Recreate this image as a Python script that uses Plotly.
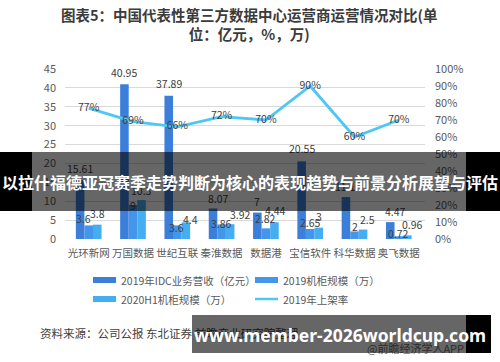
import plotly.graph_objects as go

# ---------------- data ----------------
categories = ["光环新网", "万国数据", "世纪互联", "秦淮数据", "数据港", "宝信软件", "科华数据", "奥飞数据"]
revenue_2019 = [15.61, 40.95, 37.89, 8.07, 7, 20.55, 11.1, 4.47]
cabinets_2019 = [3.6, 9, 3.6, 3.86, 2.82, 2.65, 2, 0.72]
cabinets_2020h1 = [3.8, 10.3, 4.4, 3.92, 4.44, 3, 2.5, 0.96]
rack_rate_2019 = [77, 69, 66, 72, 70, 90, 60, 70]
series_names = ["2019年IDC业务营收（亿元）", "2019机柜规模（万）", "2020H1机柜规模（万）", "2019年上架率"]
left_ticks = [0, 5, 10, 15, 20, 25, 30, 35, 40, 45]
right_ticks = [0, 10, 20, 30, 40, 50, 60, 70, 80, 90, 100]

title_text = "图表5：中国代表性第三方数据中心运营商运营情况对比(单<br>位：亿元，%，万)"
source_text = "资料来源：公司公报 东北证券 前瞻产业研究院整理"
credit_text = "@前瞻经济学人APP"
banner1_text = "以拉什福德亚冠赛季走势判断为核心的表现趋势与前景分析展望与评估"
banner2_text = "www.member-2026worldcup.com"

# ---------------- styling / layout helpers ----------------
W, H = 500, 362
L, R, T, B = 65, 75, 69, 123
PW, PH = W - L - R, H - T - B


def px(x):
    return (x - L) / PW


def py(y):
    return (H - B - y) / PH


FONT = "Noto Sans CJK SC, Noto Sans, sans-serif"
bar_colors = ["#3C7FDB", "#4496EA", "#45ADF2"]
line_color = "#4DC8F6"
label_color = "#404040"
tick_color = "#595959"

BAR_GAP = 0.42
bar_w_px = (1 - BAR_GAP) * (PW / len(categories)) / 3
bar_offsets_px = [-bar_w_px, 0, bar_w_px]
# label nudges (pixels): horizontal shift and height of label centre above bar top
label_dx = [
    [0, 0, 0, 6, 0, 0, 0, 5],
    [-5, 0, -1, 0, 0, 0, 0, 0],
    [0, 0, 4, 10, 1, 0, 4, 5],
]
label_dy = [
    [12, 12, 12, 10, 11, 13, 11, 11],
    [7, 0, -2, 1, 10, 6, 5, 3],
    [11, 10, 3, 10, 12, 11, 10, 11],
]

fig = go.Figure()

for name, vals, col in zip(series_names[:3], [revenue_2019, cabinets_2019, cabinets_2020h1], bar_colors):
    fig.add_trace(go.Bar(
        x=categories, y=vals, name=name,
        marker=dict(color=col, line=dict(width=0)),
        yaxis="y",
    ))

fig.add_trace(go.Scatter(
    x=categories, y=rack_rate_2019, name=series_names[3], yaxis="y2",
    mode="lines+text", line=dict(color=line_color, width=2.8),
    text=[f"{v}%" for v in rack_rate_2019], textposition="middle center",
    textfont=dict(size=10.5, color=label_color, family=FONT), cliponaxis=False,
))

shapes = []
annotations = []

# bar value labels (drawn before the overlay banners so the banners cover them)
for s, vals in enumerate([revenue_2019, cabinets_2019, cabinets_2020h1]):
    for i, (cat, v) in enumerate(zip(categories, vals)):
        annotations.append(dict(
            text=f"{v:g}", x=cat, y=v, xref="x", yref="y",
            xanchor="center", yanchor="middle", showarrow=False,
            xshift=bar_offsets_px[s] + label_dx[s][i], yshift=label_dy[s][i],
            font=dict(size=10.5, color=label_color, family=FONT),
        ))

# title
annotations.append(dict(
    text="<b>" + title_text + "</b>", x=px(250), y=py(24), xref="paper", yref="paper",
    xanchor="center", yanchor="middle", showarrow=False, align="center",
    font=dict(size=14.5, color="#3B3B3B", family=FONT),
))

# custom legend
legend_items = [
    (series_names[0], bar_colors[0], 93, 280, "bar"),
    (series_names[1], bar_colors[1], 255, 280, "bar"),
    (series_names[2], bar_colors[2], 93, 299, "bar"),
    (series_names[3], line_color, 255, 299, "line"),
]
for name, col, x0, yc, kind in legend_items:
    if kind == "bar":
        shapes.append(dict(type="rect", xref="paper", yref="paper",
                           x0=px(x0), x1=px(x0 + 23), y0=py(yc + 3), y1=py(yc - 3),
                           fillcolor=col, line=dict(width=0), layer="above"))
    else:
        shapes.append(dict(type="line", xref="paper", yref="paper",
                           x0=px(x0), x1=px(x0 + 23), y0=py(yc), y1=py(yc),
                           line=dict(color=col, width=2.5), layer="above"))
    annotations.append(dict(
        text=name, x=px(x0 + 26), y=py(yc), xref="paper", yref="paper",
        xanchor="left", yanchor="middle", showarrow=False,
        font=dict(size=10.5, color=tick_color, family=FONT),
    ))

# source / credit
annotations.append(dict(
    text=source_text, x=px(38), y=py(333), xref="paper", yref="paper",
    xanchor="left", yanchor="middle", showarrow=False,
    font=dict(size=11.5, color=label_color, family=FONT),
))
annotations.append(dict(
    text=credit_text, x=px(466), y=py(348), xref="paper", yref="paper",
    xanchor="right", yanchor="middle", showarrow=False,
    font=dict(size=11, color="#707070", family=FONT),
))

# overlay banners (semi-transparent gray boxes)
for (x0, x1, y0, y1) in [(32, 466, 152, 211), (192, 466, 315, 353)]:
    annotations.append(dict(
        text=" ", x=px(x0), y=py(y0), xref="paper", yref="paper",
        xanchor="left", yanchor="top", showarrow=False,
        width=x1 - x0, height=y1 - y0, bgcolor="rgba(0,0,0,0.6)",
        borderpad=0, borderwidth=0,
    ))
# black pieces
for (x0, x1, y0, y1) in [(0, 32, 152, 211), (466, 500, 152, 211), (466, 491, 315, 353)]:
    shapes.append(dict(type="rect", xref="paper", yref="paper",
                       x0=px(x0), x1=px(x1), y0=py(y1), y1=py(y0),
                       fillcolor="black", line=dict(width=0), layer="above"))

annotations.append(dict(
    text="<b>" + banner1_text + "</b>", x=px(250), y=py(182), xref="paper", yref="paper",
    xanchor="center", yanchor="middle", showarrow=False,
    font=dict(size=16, color="white", family=FONT),
))
annotations.append(dict(
    text="<b>" + banner2_text + "</b>", x=px(340), y=py(335), xref="paper", yref="paper",
    xanchor="center", yanchor="middle", showarrow=False,
    font=dict(size=17.5, color="white", family="Noto Sans, " + FONT),
))

fig.update_layout(
    width=W, height=H,
    margin=dict(l=L, r=R, t=T, b=B, pad=0),
    paper_bgcolor="white", plot_bgcolor="white",
    barmode="group", bargap=BAR_GAP, bargroupgap=0,
    showlegend=False,
    font=dict(family=FONT, color=tick_color),
    xaxis=dict(type="category", showgrid=False, showline=False, zeroline=False, ticks="",
               tickangle=0,
               tickfont=dict(size=10.5, color=tick_color, family=FONT), ticklabelstandoff=6),
    yaxis=dict(range=[0, 45], tickvals=left_ticks, showgrid=True, gridcolor="#D9D9D9", gridwidth=1,
               zeroline=False, showline=False, ticks="",
               tickfont=dict(size=11, color=tick_color, family=FONT), ticklabelstandoff=8),
    yaxis2=dict(range=[0, 100], tickvals=right_ticks, ticktext=[f"{v}%" for v in right_ticks],
                overlaying="y", side="right",
                showgrid=False, zeroline=False, showline=False, ticks="",
                tickfont=dict(size=11, color=tick_color, family=FONT), ticklabelstandoff=9),
    shapes=shapes, annotations=annotations,
)

fig.write_html("out.html")
